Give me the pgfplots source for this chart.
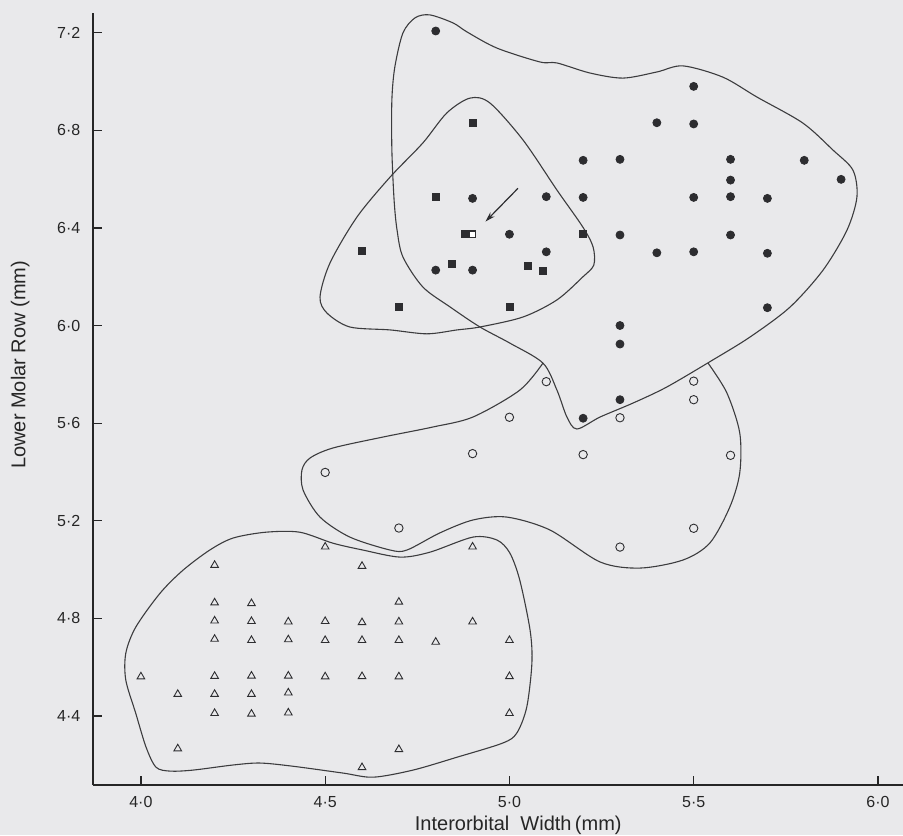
\documentclass[border=0pt]{standalone}
\usepackage{fontspec}
\setmainfont{Liberation Sans}
\usepackage{pgfplots}
\pgfplotsset{compat=1.18}
\usetikzlibrary{arrows.meta}
\definecolor{bg}{RGB}{233,233,235}
\definecolor{ink}{RGB}{45,45,48}
\definecolor{lin}{RGB}{60,60,62}
\begin{document}
\begin{tikzpicture}
\fill[bg] (0,0) rectangle (451.5pt,417.5pt);
\useasboundingbox (0,0) rectangle (451.5pt,417.5pt);
\begin{axis}[
  at={(46.5pt,25pt)}, anchor=south west,
  scale only axis, width=405pt, height=386.15pt,
  xmin=3.870, xmax=6.068, ymin=4.117, ymax=7.282,
  clip=false,
  axis x line*=bottom, axis y line*=left,
  axis line style={-, line width=0.9pt, color=black!85},
  xtick={4,4.5,5,5.5,6}, xticklabels={4·0,4·5,5·0,5·5,6·0},
  ytick={4.4,4.8,5.2,5.6,6.0,6.4,6.8,7.2},
  yticklabels={4·4,4·8,5·2,5·6,6·0,6·4,6·8,7·2},
  tick align=inside, major tick length=4.5pt,
  tick style={line width=0.6pt, black!85},
  tick label style={font=\fontsize{8}{9}\selectfont, text=black!85},
  xticklabel style={yshift=-2pt},
  yticklabel style={xshift=-2.8pt},
  xlabel={Interorbital\ \ Width\,(mm)},
  ylabel={Lower Molar Row (mm)},
  label style={font=\fontsize{10}{12}\selectfont, text=black!85},
  xlabel style={at={(axis description cs:0.525,-0.052)}, anchor=center},
  ylabel style={at={(axis description cs:-0.090,0.544)}, anchor=center},
]
% envelopes
\addplot[lin, line width=0.55pt, smooth cycle, no marks] coordinates {
(4.784,7.273) (4.847,7.240) (4.885,7.203) (4.966,7.137) (5.083,7.080) (5.129,7.076)
(5.218,7.035) (5.308,7.014) (5.400,7.039) (5.471,7.064) (5.579,7.018) (5.672,6.936)
(5.796,6.830) (5.878,6.719) (5.932,6.637) (5.943,6.527) (5.916,6.391) (5.851,6.227)
(5.761,6.075) (5.653,5.953) (5.552,5.859) (5.427,5.748) (5.335,5.682) (5.246,5.625)
(5.183,5.576) (5.156,5.625) (5.129,5.735) (5.091,5.846) (5.001,5.928) (4.920,5.994)
(4.839,6.076) (4.765,6.158) (4.711,6.281) (4.695,6.392) (4.687,6.515) (4.681,6.720)
(4.681,6.924) (4.689,7.059) (4.711,7.199) (4.744,7.261)
};
\addplot[lin, line width=0.55pt, smooth cycle, no marks] coordinates {
(4.893,6.932) (4.947,6.912) (5.037,6.760) (5.129,6.555) (5.199,6.404) (5.227,6.322)
(5.229,6.248) (5.199,6.199) (5.129,6.105) (5.037,6.035) (4.920,5.994) (4.858,5.982)
(4.776,5.966) (4.676,5.982) (4.567,5.994) (4.505,6.051) (4.486,6.117) (4.513,6.256)
(4.586,6.444) (4.676,6.608) (4.765,6.748) (4.830,6.871)
};
\addplot[lin, line width=0.55pt, smooth, no marks] coordinates {
(5.091,5.846) (5.028,5.735) (4.901,5.625) (4.792,5.584) (4.657,5.543) (4.521,5.498)
(4.459,5.457) (4.437,5.408) (4.440,5.326) (4.486,5.215) (4.567,5.133) (4.676,5.080)
(4.722,5.080) (4.811,5.150) (4.901,5.203) (4.993,5.215) (5.110,5.162) (5.246,5.031)
(5.354,5.006) (5.471,5.039) (5.544,5.109) (5.598,5.256) (5.625,5.396) (5.625,5.560)
(5.590,5.724) (5.539,5.846)
};
\addplot[lin, line width=0.55pt, smooth cycle, no marks] coordinates {
(4.431,5.153) (4.521,5.108) (4.602,5.080) (4.703,5.051) (4.784,5.071) (4.901,5.133)
(4.966,5.121) (5.001,5.068) (5.028,4.957) (5.056,4.752) (5.061,4.617) (5.047,4.436)
(5.020,4.330) (4.982,4.289) (4.858,4.231) (4.738,4.178) (4.630,4.149) (4.548,4.166)
(4.412,4.194) (4.323,4.207) (4.250,4.199) (4.141,4.178) (4.079,4.174) (4.041,4.190)
(4.014,4.272) (3.986,4.411) (3.959,4.547) (3.959,4.657) (3.986,4.764) (4.052,4.903)
(4.114,4.997) (4.187,5.080) (4.250,5.129) (4.339,5.153)
};
% arrow
\addplot[ink, line width=0.6pt, -{Stealth[length=5pt,width=3pt]}] coordinates {(5.023,6.562) (4.935,6.426)};
% filled circles
\addplot[only marks, mark=*, mark size=2pt, ink] coordinates {
(4.8,7.207) (5.2,6.677) (4.9,6.521) (5.1,6.528) (5.2,6.525) (5.0,6.374) (5.1,6.302)
(4.8,6.227) (4.9,6.227) (5.5,6.98) (5.4,6.831) (5.5,6.826) (5.3,6.681) (5.6,6.681)
(5.8,6.677) (5.6,6.596) (5.9,6.599) (5.5,6.525) (5.6,6.528) (5.7,6.521) (5.3,6.371)
(5.6,6.371) (5.4,6.298) (5.5,6.302) (5.7,6.296) (5.7,6.073) (5.3,6.0) (5.3,5.924)
(5.3,5.696) (5.2,5.62)
};
% filled squares
\addplot[only marks, mark=square*, mark size=1.75pt, ink] coordinates {
(4.9,6.831) (4.8,6.528) (4.88,6.374) (5.2,6.374) (4.6,6.305) (4.845,6.252)
(5.05,6.244) (5.09,6.223) (4.7,6.077) (5.0,6.077)
};
% open square
\addplot[only marks, mark=square*, mark size=1.6pt, ink, mark options={fill=white, line width=0.6pt}] coordinates {(4.9,6.374)};
% open circles
\addplot[only marks, mark=o, mark size=2.1pt, ink, mark options={line width=0.45pt}] coordinates {
(5.1,5.770) (5.0,5.624) (4.9,5.475) (5.2,5.471) (4.5,5.398) (4.7,5.170) (5.5,5.772)
(5.5,5.696) (5.3,5.622) (5.6,5.468) (5.5,5.169) (5.3,5.092)
};
% triangles
\addplot[only marks, mark=triangle, mark size=2.2pt, ink, mark options={line width=0.45pt}] coordinates {
(4.0,4.561) (4.1,4.489) (4.1,4.266)
(4.2,5.018) (4.2,4.864) (4.2,4.790) (4.2,4.715) (4.2,4.563) (4.2,4.489) (4.2,4.411)
(4.3,4.861) (4.3,4.788) (4.3,4.710) (4.3,4.564) (4.3,4.489) (4.3,4.408)
(4.4,4.786) (4.4,4.713) (4.4,4.564) (4.4,4.495) (4.4,4.413)
(4.5,5.093) (4.5,4.788) (4.5,4.710) (4.5,4.561)
(4.6,5.014) (4.6,4.783) (4.6,4.710) (4.6,4.562) (4.6,4.189)
(4.7,4.867) (4.7,4.786) (4.7,4.710) (4.7,4.561) (4.7,4.263)
(4.8,4.703)
(4.9,5.093) (4.9,4.786)
(5.0,4.710) (5.0,4.562) (5.0,4.411)
};
\end{axis}
\end{tikzpicture}
\end{document}
